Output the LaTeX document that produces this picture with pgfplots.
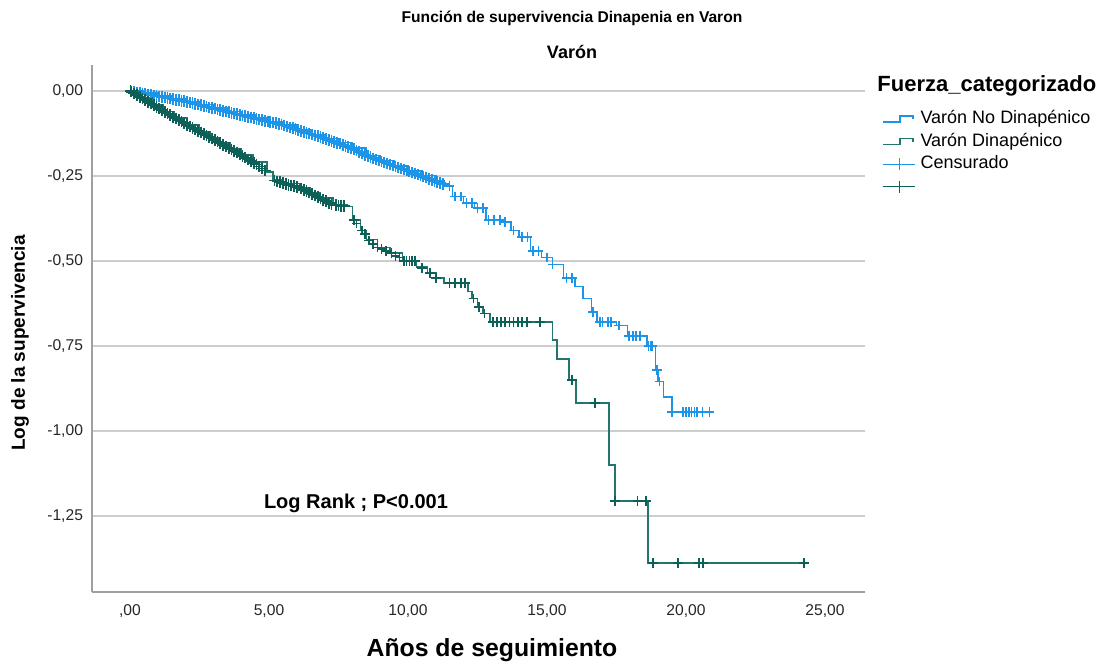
\documentclass[border=0pt]{standalone}
\usepackage{fontspec}
\setmainfont{Liberation Sans}
\usepackage{pgfplots}
\pgfplotsset{compat=1.18}

\definecolor{kmblue}{RGB}{28,148,232}
\definecolor{kmgreen}{RGB}{35,118,110}
\definecolor{kmgreenmk}{RGB}{12,96,88}
\definecolor{gridgray}{RGB}{205,205,205}
\definecolor{axgray}{RGB}{160,160,160}

\pgfplotsset{
  steplegend/.style={legend image code/.code={%
    \draw[##1] (0pt,-1.5pt) -- (8.5pt,-1.5pt) -- (8.5pt,1.5pt) -- (15pt,1.5pt) -- (15pt,0pt);}},
  censlegend/.style={legend image code/.code={%
    \draw[##1,mark=none] (0pt,0pt) -- (16pt,0pt);
    \draw[##1,mark=none] (8pt,-3pt) -- (8pt,3pt);}},
  cens/.style={only marks, mark=+, mark size=2.4pt, mark options={line width=0.8pt}, censlegend},
  densecens/.style={only marks, mark=+, mark size=2.9pt, mark options={line width=0.9pt}, forget plot},
}

\begin{document}
\begin{tikzpicture}
\useasboundingbox (0pt,0pt) rectangle (552pt,331pt);
\begin{axis}[
    at={(46pt,35pt)}, anchor=south west,
    scale only axis, width=386.5pt, height=263.5pt,
    xmin=-1.367, xmax=26.44, ymin=-1.4735, ymax=0.0765,
    axis x line*=bottom, axis y line*=left,
    axis line style={axgray, line width=0.7pt, -},
    xtick={0,5,10,15,20,25},
    xticklabels={{,00},{5,00},{10,00},{15,00},{20,00},{25,00}},
    ytick={-1.25,-1,-0.75,-0.5,-0.25,0},
    yticklabels={{-1,25},{-1,00},{-0,75},{-0,50},{-0,25},{0,00}},
    major tick length=0pt,
    ymajorgrids, major grid style={gridgray, line width=0.8pt},
    tick label style={font=\fontsize{7.8}{9}\selectfont, text=black!85},
    xticklabel style={yshift=-3pt},
    yticklabel style={xshift=-1pt},
    legend cell align=left,
    legend style={at={(1.022,0.918)}, anchor=north west, draw=none, fill=none,
        inner sep=0pt, font=\fontsize{9}{10}\selectfont, row sep=0.75pt,
        nodes={inner sep=0.5pt, text height=7pt, text depth=2.5pt},
        /tikz/every odd column/.append style={column sep=2pt}},
]

% Varon no dinapenico
\addplot[const plot, kmblue, line width=0.75pt, steplegend]
coordinates {
(0,0) (0.5,-0.006) (1,-0.014) (1.5,-0.022) (2,-0.031) (2.5,-0.04) (3,-0.05) (3.5,-0.06)
(4,-0.07) (4.5,-0.08) (5,-0.09) (5.5,-0.1) (6,-0.115) (6.5,-0.128) (7,-0.14) (7.5,-0.152)
(8,-0.168) (8.5,-0.19) (9,-0.205) (9.5,-0.22) (10,-0.235) (10.5,-0.248) (11,-0.265)
(11.3,-0.28) (11.6,-0.31) (12,-0.33) (12.4,-0.345) (12.8,-0.38) (13.4,-0.385) (13.7,-0.41)
(14,-0.43) (14.4,-0.47) (14.8,-0.49) (15.2,-0.51) (15.6,-0.55) (16,-0.575) (16.3,-0.61)
(16.6,-0.65) (16.8,-0.68) (17.5,-0.69) (17.9,-0.72) (18.6,-0.75) (18.9,-0.82) (19.0,-0.855)
(19.2,-0.9) (19.5,-0.944) (20.97,-0.944)
};
\addlegendentry{Varón No Dinapénico}

% Varon dinapenico
\addplot[const plot, kmgreen, line width=0.75pt, steplegend]
coordinates {
(0,0) (0.4,-0.02) (0.83,-0.041) (1.2,-0.06) (1.6,-0.08) (2.05,-0.1) (2.5,-0.12) (2.9,-0.138)
(3.24,-0.153) (3.6,-0.17) (4.0,-0.188) (4.42,-0.209) (4.93,-0.238) (5.14,-0.262) (5.5,-0.272)
(6.1,-0.285) (6.5,-0.3) (6.83,-0.315) (7.3,-0.335) (7.8,-0.34) (8.0,-0.38) (8.3,-0.41)
(8.5,-0.437) (8.9,-0.46) (9.35,-0.476) (9.8,-0.5) (10.3,-0.517) (10.7,-0.535) (11.0,-0.55)
(11.3,-0.565) (12.15,-0.59) (12.3,-0.61) (12.5,-0.635) (12.7,-0.655) (12.95,-0.68)
(15.2,-0.733) (15.36,-0.788) (15.8,-0.85) (16.04,-0.918) (17.23,-1.10) (17.45,-1.206)
(18.63,-1.388) (24.24,-1.388)
};
\addlegendentry{Varón Dinapénico}

% Censurados, no dinapenico (tramo denso)
\addplot[densecens, kmblue]
coordinates {
(0.05,-0.001) (0.15,-0.002) (0.25,-0.004) (0.35,-0.005) (0.45,-0.007) (0.55,-0.009)
(0.65,-0.010) (0.75,-0.012) (0.85,-0.013) (0.95,-0.015) (1.05,-0.016) (1.15,-0.018)
(1.25,-0.019) (1.35,-0.021) (1.45,-0.022) (1.55,-0.024) (1.65,-0.026) (1.75,-0.027)
(1.85,-0.029) (1.95,-0.030) (2.05,-0.032) (2.15,-0.034) (2.25,-0.036) (2.35,-0.038)
(2.45,-0.040) (2.55,-0.042) (2.65,-0.044) (2.75,-0.046) (2.85,-0.048) (2.95,-0.050)
(3.05,-0.052) (3.15,-0.054) (3.25,-0.056) (3.35,-0.058) (3.45,-0.060) (3.55,-0.062)
(3.65,-0.064) (3.75,-0.066) (3.85,-0.068) (3.95,-0.070) (4.05,-0.072) (4.15,-0.074)
(4.25,-0.076) (4.35,-0.078) (4.45,-0.080) (4.55,-0.082) (4.65,-0.084) (4.75,-0.086)
(4.85,-0.088) (4.95,-0.090) (5.05,-0.091) (5.15,-0.093) (5.25,-0.095) (5.35,-0.097)
(5.45,-0.099) (5.55,-0.101) (5.65,-0.104) (5.75,-0.107) (5.85,-0.109) (5.95,-0.112)
(6.05,-0.115) (6.15,-0.117) (6.25,-0.120) (6.35,-0.123) (6.45,-0.125) (6.55,-0.128)
(6.65,-0.131) (6.75,-0.133) (6.85,-0.136) (6.95,-0.139) (7.05,-0.141) (7.15,-0.144)
(7.25,-0.147) (7.35,-0.150) (7.45,-0.153) (7.55,-0.155) (7.65,-0.158) (7.75,-0.161)
(7.85,-0.164) (7.95,-0.167) (8.05,-0.170) (8.15,-0.175) (8.25,-0.179) (8.35,-0.183)
(8.45,-0.188) (8.55,-0.192) (8.65,-0.195) (8.75,-0.198) (8.85,-0.201) (8.95,-0.204)
(9.05,-0.207) (9.15,-0.210) (9.25,-0.213) (9.35,-0.216) (9.45,-0.219) (9.55,-0.222)
(9.65,-0.225) (9.75,-0.228) (9.85,-0.231) (9.95,-0.234) (10.05,-0.237) (10.15,-0.240)
(10.25,-0.243) (10.35,-0.246) (10.45,-0.249) (10.55,-0.252) (10.65,-0.255) (10.75,-0.258)
(10.85,-0.261) (10.95,-0.264) (11.05,-0.267) (11.15,-0.270) (11.25,-0.273)
};

% Censurados, dinapenico (tramo denso)
\addplot[densecens, kmgreenmk]
coordinates {
(0.02,0) (0.05,-0.002) (0.15,-0.007) (0.25,-0.012) (0.35,-0.017) (0.45,-0.022) (0.55,-0.027)
(0.65,-0.032) (0.75,-0.037) (0.85,-0.042) (0.95,-0.047) (1.05,-0.052) (1.15,-0.056)
(1.25,-0.061) (1.35,-0.066) (1.45,-0.071) (1.55,-0.076) (1.65,-0.081) (1.75,-0.086)
(1.85,-0.090) (1.95,-0.095) (2.05,-0.100) (2.15,-0.104) (2.25,-0.109) (2.35,-0.113)
(2.45,-0.118) (2.55,-0.122) (2.65,-0.127) (2.75,-0.131) (2.85,-0.136) (2.95,-0.140)
(3.05,-0.145) (3.15,-0.149) (3.25,-0.153) (3.35,-0.158) (3.45,-0.163) (3.55,-0.167)
(3.65,-0.172) (3.75,-0.177) (3.85,-0.181) (3.95,-0.186) (4.05,-0.191) (4.15,-0.196)
(4.25,-0.201) (4.35,-0.206) (4.45,-0.211) (4.55,-0.216) (4.65,-0.222) (4.75,-0.228)
(4.85,-0.234) (5.2,-0.263) (5.3,-0.266) (5.4,-0.268) (5.5,-0.271) (5.6,-0.273) (5.7,-0.276)
(5.8,-0.278) (5.9,-0.280) (6.0,-0.283) (6.15,-0.287) (6.25,-0.291) (6.35,-0.295)
(6.45,-0.299) (6.55,-0.303) (6.65,-0.307) (6.75,-0.311) (6.85,-0.316) (6.95,-0.320)
(7.05,-0.324) (7.15,-0.329) (7.25,-0.333) (7.4,-0.336) (7.5,-0.337) (7.6,-0.338) (7.7,-0.339)
};

% Censurados, no dinapenico
\addplot[cens, kmblue]
coordinates {
(11.5,-0.28) (11.7,-0.31) (11.9,-0.31) (12.1,-0.33) (12.3,-0.33) (12.5,-0.345) (12.7,-0.345)
(12.9,-0.38) (13.1,-0.38) (13.3,-0.38) (13.5,-0.385) (13.8,-0.41) (14.1,-0.43) (14.3,-0.43)
(14.5,-0.47) (14.7,-0.47) (15.0,-0.49) (15.2,-0.51) (15.7,-0.55) (15.9,-0.55) (16.65,-0.65)
(16.9,-0.68) (17.0,-0.68) (17.2,-0.68) (17.3,-0.68) (17.6,-0.69) (17.95,-0.72) (18.1,-0.72)
(18.2,-0.72) (18.35,-0.72) (18.65,-0.75) (18.75,-0.75) (18.8,-0.75) (18.95,-0.82)
(19.05,-0.855) (19.5,-0.944) (19.9,-0.944) (20.0,-0.944) (20.1,-0.944) (20.2,-0.944)
(20.3,-0.944) (20.4,-0.944) (20.6,-0.944) (20.85,-0.944)
};
\addlegendentry{Censurado}

% Censurados, dinapenico
\addplot[cens, kmgreenmk]
coordinates {
(8.05,-0.38) (8.15,-0.39) (8.35,-0.41) (8.45,-0.42) (8.6,-0.44) (8.75,-0.45) (8.9,-0.46)
(9.05,-0.465) (9.2,-0.47) (9.4,-0.476) (9.55,-0.485) (9.7,-0.49) (9.85,-0.5) (9.95,-0.5)
(10.05,-0.5) (10.15,-0.5) (10.25,-0.5) (10.5,-0.52) (10.8,-0.535) (11.0,-0.55)
(11.5,-0.565) (11.7,-0.565) (11.9,-0.565) (12.05,-0.565) (12.35,-0.61) (12.55,-0.635)
(12.75,-0.655) (13.06,-0.68) (13.2,-0.68) (13.35,-0.68) (13.5,-0.68) (13.65,-0.68)
(13.8,-0.68) (13.95,-0.68) (14.1,-0.68) (14.28,-0.68) (14.75,-0.68) (15.9,-0.85)
(16.73,-0.918) (17.45,-1.206) (18.25,-1.206) (18.56,-1.206)
(18.81,-1.388) (19.71,-1.388) (20.47,-1.388) (20.61,-1.388) (24.24,-1.388)
};
\addlegendentry{}

\node[font=\bfseries\fontsize{10}{12}\selectfont] at (axis cs:8.13,-1.212) {Log Rank ; P<0.001};
\end{axis}

\node[font=\bfseries\fontsize{7.8}{9}\selectfont] at (286pt,322pt) {Función de supervivencia Dinapenia en Varon};
\node[font=\bfseries\fontsize{9}{11}\selectfont] at (286pt,305pt) {Varón};
\node[font=\bfseries\fontsize{9.5}{11}\selectfont, rotate=90] at (10pt,159.5pt) {Log de la supervivencia};
\node[font=\bfseries\fontsize{12.4}{14}\selectfont] at (246pt,6pt) {Años de seguimiento};
\node[font=\bfseries\fontsize{11}{13}\selectfont, anchor=west, inner sep=0pt] at (438.5pt,288pt) {Fuerza\_categorizado};
\end{tikzpicture}
\end{document}
